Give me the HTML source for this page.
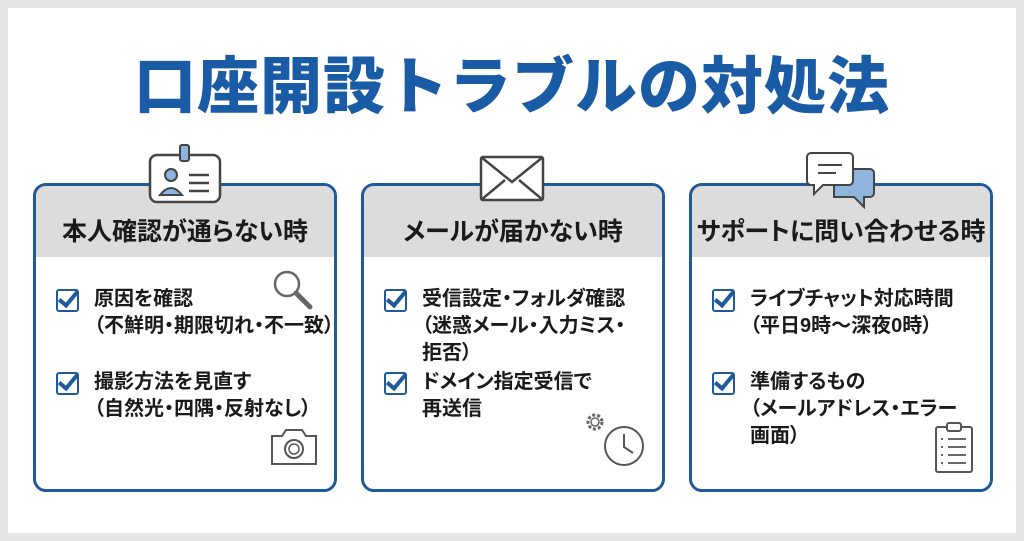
<!DOCTYPE html>
<html><head><meta charset="utf-8"><style>
body{margin:0;width:1024px;height:541px;background:#e6e6e6;font-family:"Liberation Sans","Noto Sans CJK JP",sans-serif;overflow:hidden}
.pg{position:absolute;left:8px;top:8px;width:1008px;height:525px;background:#fff}
h1{position:absolute;left:0;top:52px;width:1024px;margin:0;text-align:center;font-size:62px;font-weight:900;color:#1a5ba6;letter-spacing:1px;line-height:72px}
.card{position:absolute;top:183px;width:298px;height:303px;border:3px solid #1f5a9a;border-radius:13px;overflow:hidden;background:#fff}
.hd{height:71px;background:#dcdcdc;text-align:center;font-size:25px;font-weight:bold;color:#1a1a1a;line-height:92px;font-feature-settings:"palt";white-space:nowrap}
.it{position:absolute;left:58px;font-size:20px;font-weight:bold;color:#1a1a1a;line-height:27px;white-space:nowrap;font-feature-settings:"palt"}
.cb{position:absolute;left:20px;width:19px;height:19px;border:2.5px solid #1f5a9a;border-radius:3px}
.cb:after{content:"";position:absolute;left:5px;top:-4px;width:7px;height:16px;border:solid #1f5a9a;border-width:0 4px 4px 0;transform:rotate(40deg)}
svg{position:absolute}
</style></head><body>
<div class="pg"></div>
<h1>口座開設トラブルの対処法</h1>

<div class="card" style="left:33px">
<div class="hd">本人確認が通らない時</div>
<div class="cb" style="top:103px"></div>
<div class="it" style="top:100px">原因を確認<br>（不鮮明・期限切れ・不一致）</div>
<div class="cb" style="top:186px"></div>
<div class="it" style="top:183px">撮影方法を見直す<br>（自然光・四隅・反射なし）</div>
</div>
<div class="card" style="left:361px">
<div class="hd">メールが届かない時</div>
<div class="cb" style="top:103px"></div>
<div class="it" style="top:100px">受信設定・フォルダ確認<br>（迷惑メール・入力ミス・<br>拒否）</div>
<div class="cb" style="top:186px"></div>
<div class="it" style="top:183px">ドメイン指定受信で<br>再送信</div>
</div>
<div class="card" style="left:689px">
<div class="hd">サポートに問い合わせる時</div>
<div class="cb" style="top:103px"></div>
<div class="it" style="top:100px">ライブチャット対応時間<br>（平日9時〜深夜0時）</div>
<div class="cb" style="top:186px"></div>
<div class="it" style="top:183px">準備するもの<br>（メールアドレス・エラー<br>画面）</div>
</div>

<!-- ID card -->
<svg style="left:145px;top:143px" width="80" height="62">
<rect x="5" y="12" width="70" height="47" rx="7" fill="#fff" stroke="#444" stroke-width="2.5"/>
<rect x="35" y="2" width="9" height="16" rx="2" fill="#8fb4dd" stroke="#444" stroke-width="2"/>
<circle cx="26" cy="32" r="6" fill="#8fb4dd" stroke="#444" stroke-width="2"/>
<path d="M15 52 q11-14 22 0z" fill="#8fb4dd" stroke="#444" stroke-width="2"/>
<path d="M44 32h20M44 40h20M44 48h20" stroke="#444" stroke-width="2.5"/>
</svg>
<!-- envelope -->
<svg style="left:478px;top:154px" width="68" height="50">
<rect x="3" y="3" width="62" height="43" rx="2" fill="#fff" stroke="#444" stroke-width="2.5"/>
<path d="M3 3l31 25 31-25M3 46l24-20M65 46l-24-20" fill="none" stroke="#444" stroke-width="2.5"/>
</svg>
<!-- chat -->
<svg style="left:806px;top:151px" width="70" height="58">
<path d="M28 18h36a4 4 0 0 1 4 4v20a4 4 0 0 1-4 4h-6v10l-10-10h-20z" fill="#8fb4dd" stroke="#444" stroke-width="2"/>
<path d="M5 2h38a4 4 0 0 1 4 4v24a4 4 0 0 1-4 4h-26l-9 9v-9h-3a4 4 0 0 1-4-4v-24a4 4 0 0 1 4-4z" fill="#fff" stroke="#444" stroke-width="2"/>
<path d="M12 14h24M12 22h18" stroke="#444" stroke-width="2"/>
</svg>
<!-- magnifier -->
<svg style="left:270px;top:268px" width="46" height="46">
<circle cx="17" cy="16" r="12" fill="none" stroke="#666" stroke-width="2.5"/>
<path d="M26 25l14 14" stroke="#666" stroke-width="5" stroke-linecap="round"/>
</svg>
<!-- camera -->
<svg style="left:268px;top:426px" width="52" height="42">
<path d="M4 10h10l4-6h16l4 6h10v28h-44z" fill="#fff" stroke="#555" stroke-width="2"/>
<circle cx="26" cy="23" r="9" fill="none" stroke="#555" stroke-width="2"/>
<circle cx="26" cy="23" r="5" fill="none" stroke="#555" stroke-width="1.5"/>
</svg>
<!-- gear + clock -->
<svg style="left:582px;top:408px" width="66" height="62">
<circle cx="13" cy="14" r="7" fill="none" stroke="#666" stroke-width="3" stroke-dasharray="3 2"/>
<circle cx="13" cy="14" r="4" fill="none" stroke="#666" stroke-width="1.5"/>
<circle cx="42" cy="38" r="19" fill="#fff" stroke="#555" stroke-width="2"/>
<path d="M42 26v13l9 6" fill="none" stroke="#555" stroke-width="2"/>
</svg>
<!-- clipboard -->
<svg style="left:933px;top:421px" width="42" height="54">
<rect x="3" y="6" width="36" height="45" rx="2" fill="#fff" stroke="#555" stroke-width="2"/>
<rect x="14" y="2" width="14" height="8" rx="2" fill="#fff" stroke="#555" stroke-width="2"/>
<path d="M8 18h2M8 26h2M8 34h2M8 42h2M15 18h18M15 26h18M15 34h18M15 42h18" stroke="#555" stroke-width="1.8"/>
</svg>
</body></html>
